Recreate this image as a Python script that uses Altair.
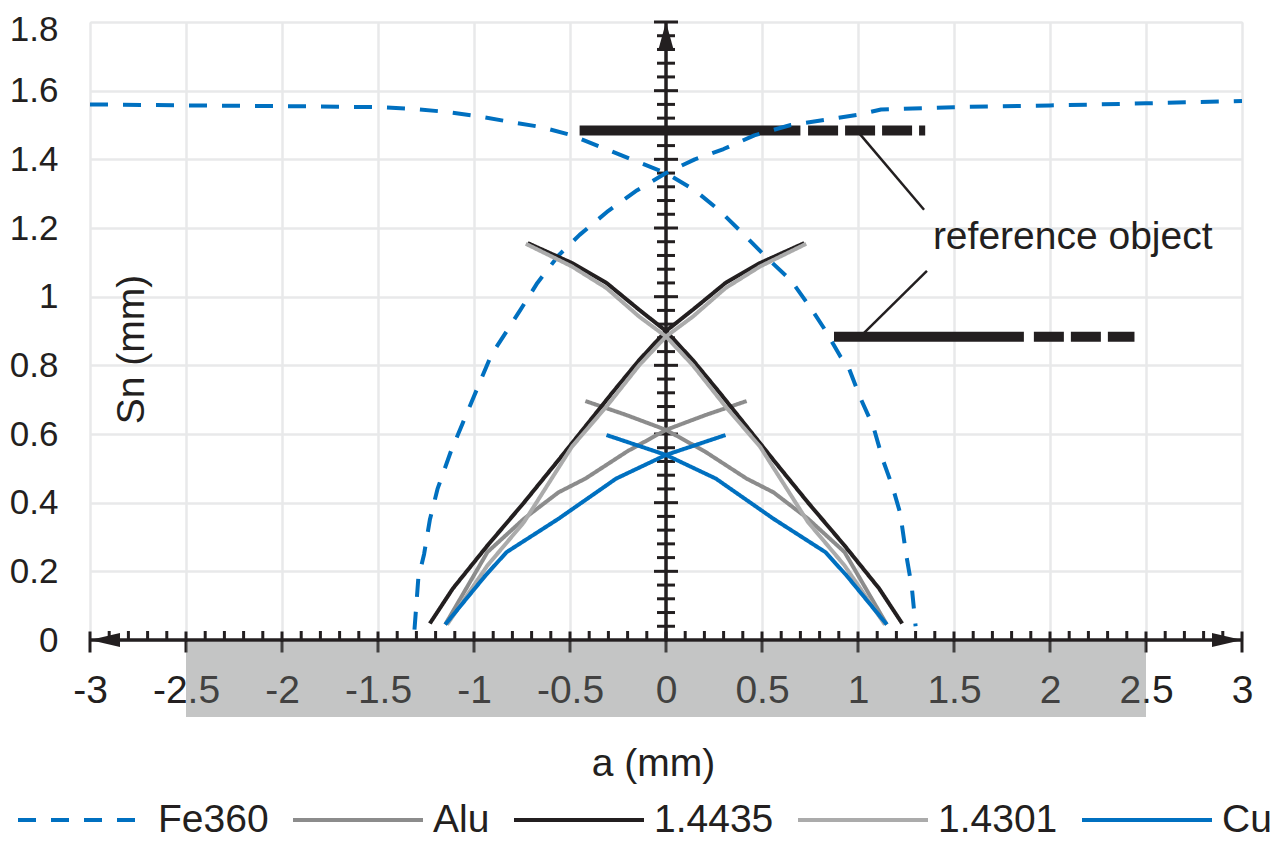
import altair as alt
import pandas as pd

FONT = "Liberation Sans"
INK = "#231F20"
FS = 39

# ---------------- data ----------------
materials = ["Fe360", "Alu", "1.4435", "1.4301", "Cu"]
colors = ["#0070C0", "#8C8C8C", "#231F20", "#ABABAB", "#0070C0"]
dashes = [[18, 15], [1, 0], [1, 0], [1, 0], [1, 0]]

fe_rise_a = [-1.31, -1.29, -1.26, -1.23, -1.19, -1.12, -1.06, -1.0, -0.91, -0.76, -0.67, -0.56, -0.45,
             -0.30, -0.15, 0.0, 0.15, 0.30, 0.46, 0.65, 0.83, 1.0, 1.12, 1.5, 2.0, 2.5, 3.0]
fe_rise_sn = [0.03, 0.18, 0.25, 0.35, 0.44, 0.55, 0.63, 0.71, 0.83, 0.96, 1.04, 1.12, 1.18,
              1.25, 1.31, 1.36, 1.40, 1.43, 1.47, 1.50, 1.515, 1.53, 1.545, 1.552, 1.557, 1.563, 1.57]
fe_fall_a = [-3.0, -2.5, -2.0, -1.5, -1.32, -1.14, -0.97, -0.8, -0.65, -0.49, -0.34, -0.19, 0.0, 0.15,
             0.28, 0.40, 0.52, 0.65, 0.75, 0.83, 0.91, 0.95, 1.01, 1.08, 1.13, 1.18, 1.22, 1.25, 1.28, 1.30]
fe_fall_sn = [1.56, 1.557, 1.555, 1.552, 1.547, 1.538, 1.525, 1.508, 1.494, 1.47, 1.436, 1.402, 1.36, 1.31,
              1.25, 1.184, 1.116, 1.048, 0.97, 0.902, 0.824, 0.795, 0.708, 0.621, 0.524, 0.446, 0.369, 0.252, 0.155, 0.04]

alu_rise_a = [-1.15, -0.93, -0.74, -0.56, -0.42, -0.2, 0.0, 0.21, 0.42]
alu_rise_sn = [0.045, 0.256, 0.353, 0.43, 0.47, 0.55, 0.612, 0.656, 0.696]
alu_fall_a = [-0.42, -0.21, 0.0, 0.2, 0.42, 0.56, 0.74, 0.93, 1.15]
alu_fall_sn = [0.696, 0.656, 0.612, 0.55, 0.47, 0.43, 0.353, 0.256, 0.045]

s35_rise_a = [-1.23, -1.11, -0.93, -0.74, -0.56, -0.42, -0.28, -0.14, 0.0, 0.14, 0.31, 0.49, 0.72]
s35_rise_sn = [0.048, 0.15, 0.275, 0.40, 0.524, 0.622, 0.72, 0.815, 0.90, 0.962, 1.04, 1.098, 1.156]
s35_fall_a = [-0.72, -0.49, -0.31, -0.14, 0.0, 0.14, 0.28, 0.42, 0.56, 0.74, 0.93, 1.11, 1.23]
s35_fall_sn = [1.156, 1.098, 1.04, 0.962, 0.90, 0.815, 0.72, 0.622, 0.524, 0.40, 0.275, 0.15, 0.048]

s01_rise_a = [-1.14, -0.93, -0.74, -0.49, -0.31, -0.14, 0.0, 0.14, 0.31, 0.49, 0.73]
s01_rise_sn = [0.045, 0.217, 0.343, 0.563, 0.68, 0.80, 0.884, 0.942, 1.025, 1.088, 1.154]
s01_fall_a = [-0.73, -0.49, -0.31, -0.14, 0.0, 0.14, 0.31, 0.49, 0.74, 0.93, 1.14]
s01_fall_sn = [1.154, 1.088, 1.025, 0.942, 0.884, 0.80, 0.68, 0.563, 0.343, 0.217, 0.045]

cu_rise_a = [-1.15, -0.94, -0.83, -0.56, -0.26, 0.0, 0.31]
cu_rise_sn = [0.045, 0.188, 0.256, 0.353, 0.47, 0.539, 0.597]
cu_fall_a = [-0.31, 0.0, 0.26, 0.56, 0.83, 0.94, 1.15]
cu_fall_sn = [0.597, 0.539, 0.47, 0.353, 0.256, 0.188, 0.045]

# reference-object bars and leaders
bar_solid_a = [-0.45, 0.875]
bar_solid_a2 = [0.70, 1.864]
bar_dash_a = [0.74, 1.916]
bar_dash_a2 = [1.35, 2.44]
bar_sn = [1.484, 0.883]
lead_a = [1.009, 1.029]
lead_sn = [1.474, 0.893]
lead_a2 = [1.344, 1.359]
lead_sn2 = [1.253, 1.075]
label_text = ["reference object"]
label_a = [1.39]
label_sn = [1.14]

# sensor face box below the axis
box_a = [-2.5]
box_a2 = [2.5]
box_sn = [-0.006]
box_sn2 = [-0.224]

x_ticks = [-3, -2.5, -2, -1.5, -1, -0.5, 0, 0.5, 1, 1.5, 2, 2.5, 3]
y_ticks = [0, 0.2, 0.4, 0.6, 0.8, 1, 1.2, 1.4, 1.6, 1.8]
x_minor = [round(-3 + 0.1 * i, 2) for i in range(61) if i % 5 != 0]
y_minor = [round(0.04 * i, 2) for i in range(1, 46) if i % 5 != 0]
y_major = [0.2, 0.4, 0.6, 0.8, 1, 1.2, 1.4, 1.6, 1.8]

# ---------------- build tables ----------------
rows = []
def add(mat, branch, a_list, s_list):
    for i, (a, s) in enumerate(zip(a_list, s_list)):
        rows.append({"material": mat, "branch": mat + "-" + branch, "a": a, "Sn": s, "idx": i})

add("Fe360", "r", fe_rise_a, fe_rise_sn)
add("Fe360", "f", fe_fall_a, fe_fall_sn)
add("Alu", "r", alu_rise_a, alu_rise_sn)
add("Alu", "f", alu_fall_a, alu_fall_sn)
add("1.4435", "r", s35_rise_a, s35_rise_sn)
add("1.4435", "f", s35_fall_a, s35_fall_sn)
add("1.4301", "r", s01_rise_a, s01_rise_sn)
add("1.4301", "f", s01_fall_a, s01_fall_sn)
add("Cu", "r", cu_rise_a, cu_rise_sn)
add("Cu", "f", cu_fall_a, cu_fall_sn)
curves = pd.DataFrame(rows)

xs = alt.Scale(domain=[-3, 3], nice=False, zero=False)
ys = alt.Scale(domain=[0, 1.8], nice=False, zero=False)

x_axis = alt.Axis(values=x_ticks, grid=True, gridColor="#E8E9EA", gridWidth=2.5, domain=False, ticks=False,
                  labelFont=FONT, labelFontSize=FS, labelColor=INK, labelPadding=31, labelFlush=False,
                  labelOverlap=False, labelExpr="'' + datum.value",
                  title="a (mm)", titleFont=FONT, titleFontSize=FS, titleFontWeight="normal", titleColor=INK,
                  titleX=563, titleY=135, titleBaseline="alphabetic", titleAlign="center")
y_axis = alt.Axis(values=y_ticks, grid=True, gridColor="#E8E9EA", gridWidth=2.5, domain=False, ticks=False,
                  labelFont=FONT, labelFontSize=35, labelColor=INK, labelPadding=32, labelFlush=False,
                  labelOverlap=False, labelExpr="'' + datum.value", labelBaseline="middle",
                  labelOffset={"condition": {"test": "datum.value >= 1.8", "value": 7}, "value": 0},
                  title="Sn (mm)", titleFont=FONT, titleFontSize=FS, titleFontWeight="normal", titleColor=INK,
                  titleAngle=270, titleX=53, titleY=327, titleBaseline="alphabetic", titleAlign="center")

def X(f):
    return alt.X(f, type="quantitative", scale=xs, axis=x_axis)

def Y(f):
    return alt.Y(f, type="quantitative", scale=ys, axis=y_axis)

# axis lines
axis_lines = alt.Chart(pd.DataFrame({"a": [-3], "a2": [3], "Sn": [0], "x0": [0], "s0": [0], "s1": [1.8]}))
x_line = axis_lines.mark_rule(color=INK, strokeWidth=3.5).encode(x=X("a:Q"), x2="a2:Q", y=Y("Sn:Q"))
y_line = axis_lines.mark_rule(color=INK, strokeWidth=3.5).encode(x=X("x0:Q"), y=Y("s0:Q"), y2="s1:Q")

xmin_t = alt.Chart(pd.DataFrame({"a": x_minor, "Sn": [0] * len(x_minor)})).mark_tick(
    orient="vertical", size=9, thickness=3, yOffset=-4.5, color=INK, opacity=1).encode(x=X("a:Q"), y=Y("Sn:Q"))
xmaj_t = alt.Chart(pd.DataFrame({"a": x_ticks, "Sn": [0] * len(x_ticks)})).mark_tick(
    orient="vertical", size=21, thickness=3, yOffset=2, color=INK, opacity=1).encode(x=X("a:Q"), y=Y("Sn:Q"))
ymin_t = alt.Chart(pd.DataFrame({"a": [0] * len(y_minor), "Sn": y_minor})).mark_tick(
    orient="horizontal", size=18, thickness=3, color=INK, opacity=1).encode(x=X("a:Q"), y=Y("Sn:Q"))
ymaj_t = alt.Chart(pd.DataFrame({"a": [0] * len(y_major), "Sn": y_major})).mark_tick(
    orient="horizontal", size=24, thickness=3, color=INK, opacity=1).encode(x=X("a:Q"), y=Y("Sn:Q"))

def arrow(a, s, path, size):
    return alt.Chart(pd.DataFrame({"a": [a], "Sn": [s]})).mark_point(
        shape=path, size=size, filled=True, color=INK, opacity=1, strokeWidth=0).encode(x=X("a:Q"), y=Y("Sn:Q"))

arr_l = arrow(-3, 0, "M0,0L2,-0.47L2,0.47Z", 900)
arr_r = arrow(3, 0, "M0,0L-2,-0.47L-2,0.47Z", 900)
arr_u = arrow(0, 1.8, "M0,0L-0.55,2L0.55,2Z", 841)

bars_solid = alt.Chart(pd.DataFrame({"a": bar_solid_a, "a2": bar_solid_a2, "Sn": bar_sn})).mark_rule(
    color=INK, strokeWidth=10, strokeCap="butt").encode(x=X("a:Q"), x2="a2:Q", y=Y("Sn:Q"))
bars_dash = alt.Chart(pd.DataFrame({"a": bar_dash_a, "a2": bar_dash_a2, "Sn": bar_sn})).mark_rule(
    color=INK, strokeWidth=10, strokeCap="butt", strokeDash=[30, 7]).encode(x=X("a:Q"), x2="a2:Q", y=Y("Sn:Q"))

legend = alt.Legend(title=None, orient="none", legendX=-74, legendY=731, direction="horizontal", columns=5,
                    symbolType="stroke", symbolSize=16900, symbolStrokeWidth=4,
                    labelFont=FONT, labelFontSize=FS, labelColor=INK, labelOffset=8, columnPadding=16,
                    padding=0, labelLimit=300)

lines = alt.Chart(curves).mark_line(strokeWidth=4, strokeCap="butt", strokeJoin="round").encode(
    x=X("a:Q"), y=Y("Sn:Q"),
    color=alt.Color("material:N", scale=alt.Scale(domain=materials, range=colors), legend=legend),
    strokeDash=alt.StrokeDash("material:N", scale=alt.Scale(domain=materials, range=dashes), legend=legend),
    detail="branch:N", order="idx:Q")

leaders = alt.Chart(pd.DataFrame({"a": lead_a, "a2": lead_a2, "Sn": lead_sn, "Sn2": lead_sn2})).mark_rule(
    color=INK, strokeWidth=2.5).encode(x=X("a:Q"), x2="a2:Q", y=Y("Sn:Q"), y2="Sn2:Q")

label = alt.Chart(pd.DataFrame({"a": label_a, "Sn": label_sn, "t": label_text})).mark_text(
    align="left", baseline="alphabetic", font=FONT, fontSize=FS, color=INK).encode(
    x=X("a:Q"), y=Y("Sn:Q"), text="t:N")

box = alt.Chart(pd.DataFrame({"a": box_a, "a2": box_a2, "Sn": box_sn, "Sn2": box_sn2})).mark_rect(
    color="#6F7371", opacity=0.41).encode(x=X("a:Q"), x2="a2:Q", y=Y("Sn:Q"), y2="Sn2:Q")

chart = alt.layer(
    x_line, y_line, xmin_t, xmaj_t, ymin_t, ymaj_t, arr_l, arr_r, arr_u,
    bars_solid, bars_dash, lines, leaders, label, box
).properties(
    width=1152, height=618,
    autosize=alt.AutoSizeParams(type="none"),
    padding={"left": 82, "top": 14, "right": 30, "bottom": 201},
).configure_view(stroke=None).configure(font=FONT)

chart.save("out.html", embed_options={"renderer": "svg", "actions": False})
